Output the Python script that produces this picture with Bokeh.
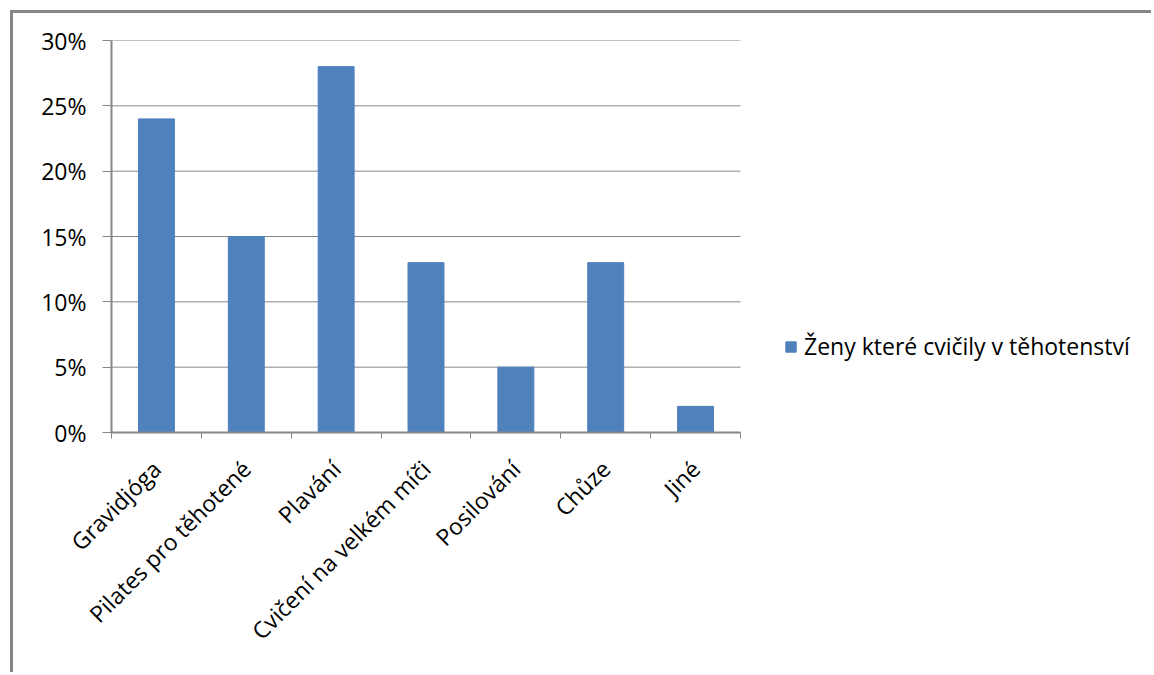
import math

from bokeh.embed import file_html
from bokeh.models import (ColumnDataSource, FixedTicker, Legend, LegendItem,
                          NumeralTickFormatter, Range1d)
from bokeh.plotting import figure
from bokeh.resources import INLINE

# Share of women by type of exercise during pregnancy
categories = ["Gravidjóga", "Pilates pro těhotené", "Plavání",
              "Cvičení na velkém míči", "Posilování", "Chůze", "Jiné"]
shares = [0.24, 0.15, 0.28, 0.13, 0.05, 0.13, 0.02]
series_name = "Ženy které cvičily v těhotenství"
y_ticks = [0.0, 0.05, 0.10, 0.15, 0.20, 0.25, 0.30]

FONT = "Open Sans"
SIZE = "23px"
GRAY = "#868686"
BAR = "#4F81BD"

# layout (pixels): the frame reaches the right edge so the legend can sit
# beside the bars; the bars themselves use the left part of it
FIG_W, FIG_H = 1141, 662
LEFT, TOP, BOTTOM = 98, 27, 243
BARS_PX = 629

n = len(categories)
centers = [i + 0.5 for i in range(n)]
x_end = n * (FIG_W - LEFT) / BARS_PX
source = ColumnDataSource(dict(x=centers, top=shares, name=categories))

# chart area with a gray border on its top and left edges
p = figure(width=FIG_W, height=FIG_H, output_backend="svg", toolbar_location=None,
           x_range=Range1d(0, x_end), y_range=Range1d(0, y_ticks[-1]),
           min_border_left=LEFT, min_border_top=TOP,
           min_border_right=0, min_border_bottom=BOTTOM,
           styles={"border-top": f"3px solid {GRAY}",
                   "border-left": f"3px solid {GRAY}",
                   "margin-top": "10px", "margin-left": "10px"})
p.outline_line_color = None
p.background_fill_color = "white"
p.border_fill_color = "white"

# horizontal gridlines across the category area only
p.segment(x0=[0] * len(y_ticks), x1=[n] * len(y_ticks), y0=y_ticks, y1=y_ticks,
          line_color=GRAY, line_width=1, level="underlay")

r = p.vbar(x="x", top="top", width=0.4, source=source, color=BAR)

# y axis
p.yaxis.ticker = FixedTicker(ticks=y_ticks, minor_ticks=[])
p.yaxis.formatter = NumeralTickFormatter(format="0%")
p.yaxis.axis_line_color = GRAY
p.yaxis.axis_line_width = 2
p.yaxis.major_tick_line_color = GRAY
p.yaxis.major_tick_out = 9
p.yaxis.major_tick_in = 0
p.yaxis.minor_tick_line_color = None
p.yaxis.major_label_standoff = 16
p.yaxis.major_label_text_font = FONT
p.yaxis.major_label_text_font_size = SIZE
p.yaxis.major_label_text_color = "black"

# x axis: labels at category centres, tick marks at category boundaries
p.xaxis.bounds = (0, n)
p.xaxis.ticker = FixedTicker(ticks=centers, minor_ticks=list(range(n + 1)))
p.xaxis.major_label_overrides = {c: name for c, name in zip(centers, categories)}
p.xaxis.major_label_orientation = math.pi / 4
p.xaxis.axis_line_color = GRAY
p.xaxis.axis_line_width = 2
p.xaxis.major_tick_line_color = None
p.xaxis.major_tick_out = 0
p.xaxis.major_tick_in = 0
p.xaxis.minor_tick_line_color = GRAY
p.xaxis.minor_tick_line_width = 1
p.xaxis.minor_tick_out = 6
p.xaxis.minor_tick_in = 0
p.xaxis.major_label_standoff = 26
p.xaxis.major_label_text_font = FONT
p.xaxis.major_label_text_font_size = SIZE
p.xaxis.major_label_text_color = "black"

p.xgrid.grid_line_color = None
p.ygrid.grid_line_color = None

legend = Legend(items=[LegendItem(label=series_name, renderers=[r])],
                location=(673, 70), orientation="vertical",
                glyph_width=13, glyph_height=13, label_standoff=7,
                padding=0, margin=0, border_line_color=None,
                background_fill_alpha=0,
                label_text_font=FONT, label_text_font_size=SIZE,
                label_text_color="black")
p.add_layout(legend)

open("out.html", "w").write(file_html(p, INLINE))
